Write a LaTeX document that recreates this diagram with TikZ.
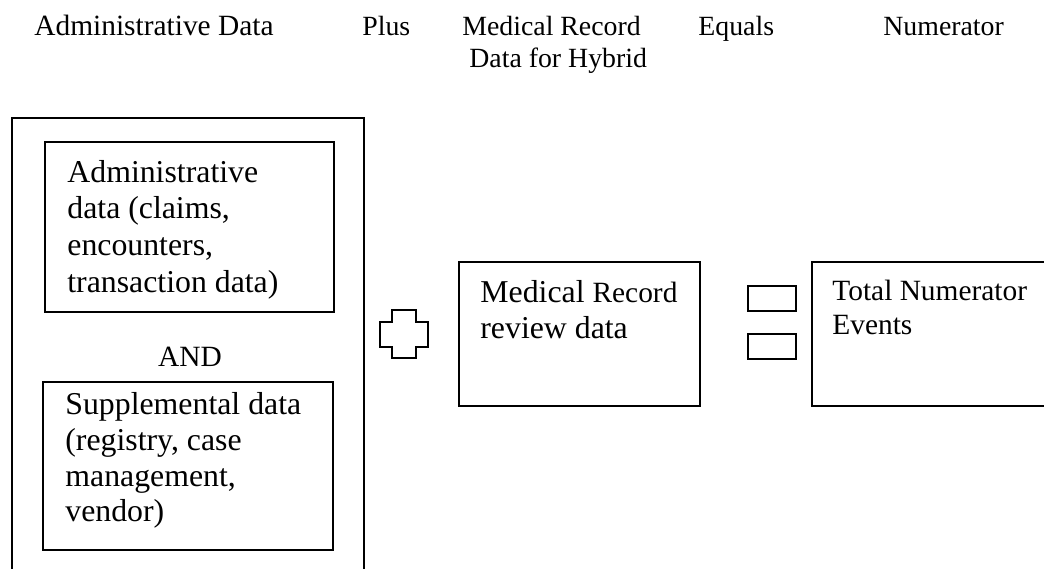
\documentclass[tikz,border=0pt]{standalone}
\usepackage{fontspec}
\setmainfont{Liberation Serif}
\newcommand{\fbig}{\fontsize{15.9}{18.2}\selectfont}
\newcommand{\fmid}{\fontsize{14.7}{18.2}\selectfont}
\newcommand{\fsmall}{\fontsize{13.9}{16}\selectfont}
\tikzset{
  box/.style={draw=black, line width=1pt},
  txt/.style={anchor=base west, inner sep=0pt, font=\fmid},
  bigtxt/.style={anchor=base west, inner sep=0pt, font=\fbig},
  hdr/.style={anchor=base west, inner sep=0pt, font=\fsmall},
}
\begin{document}
\begin{tikzpicture}[x=0.5pt, y=-0.5pt]
\useasboundingbox (0,0) rectangle (1044,568);
\clip (0,0) rectangle (1044,568);
% header
\node[hdr, font=\fmid] (h1) at (34,35) {Administrative Data};
\node[hdr] (h2) at (362,35) {Plus};
\node[hdr] (h3a) at (462,35) {Medical Record};
\node[hdr] (h3b) at (469,67) {Data for Hybrid};
\node[hdr] (h4) at (698,35) {Equals};
\node[hdr] (h5) at (883,35) {Numerator};
% outer box
\draw[box] (12,118) rectangle (364,600);
% inner top box
\draw[box] (45,142) rectangle (334,312);
\node[bigtxt] (a1) at (67,182) {Administrative};
\node[bigtxt] (a2) at (67,218) {data (claims,};
\node[bigtxt] (a3) at (67,255) {encounters,};
\node[bigtxt] (a4) at (67,292) {transaction data)};
\node[txt, anchor=base] (and) at (190,366) {AND};
% inner bottom box
\draw[box] (43,382) rectangle (333,550);
\node[bigtxt] (s1) at (65,414) {Supplemental data};
\node[bigtxt] (s2) at (65,450) {(registry, case};
\node[bigtxt] (s3) at (65,486) {management,};
\node[bigtxt] (s4) at (65,521) {vendor)};
% plus sign
\draw[box, line join=miter] (392,310) -- (416,310) -- (416,322) -- (428,322) -- (428,347) -- (416,347) -- (416,358) -- (392,358) -- (392,347) -- (380,347) -- (380,322) -- (392,322) -- cycle;
% medical box
\draw[box] (459,262) rectangle (700,406);
\node[bigtxt] (m1) at (480,302) {Medical {\fmid Record}};
\node[bigtxt] (m2) at (480,338) {review data};
% equals
\draw[box] (748,286) rectangle (796,311);
\draw[box] (748,334) rectangle (796,359);
% total box
\draw[box] (812,262) rectangle (1060,406);
\node[txt] (t1) at (832,300) {Total Numerator};
\node[txt] (t2) at (832,334) {Events};
\end{tikzpicture}
\end{document}
